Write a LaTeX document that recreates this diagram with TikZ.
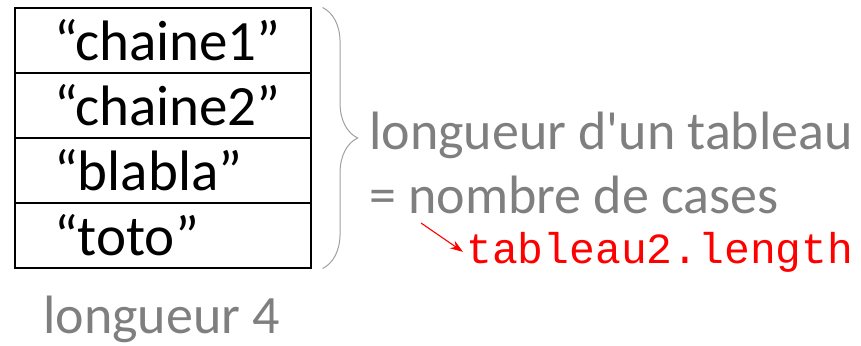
\documentclass[tikz,border=0pt]{standalone}
\usepackage{fontspec}
\setmainfont{Carlito}
\newfontfamily\codefont{Liberation Mono}
\usetikzlibrary{arrows.meta,decorations.pathreplacing}
\definecolor{notegray}{HTML}{7F7F7F}
\definecolor{bracegray}{HTML}{A0A0A0}
\definecolor{codered}{HTML}{FF0000}
\begin{document}
\begin{tikzpicture}[
    x=1pt, y=1pt,
    cell/.style={rectangle, draw, line width=1.1pt, minimum width=296pt, minimum height=65pt,
                 text width=218pt, inner xsep=39pt, align=left,
                 font=\fontsize{57}{66}\selectfont},
    note/.style={anchor=base west, inner sep=0pt, text=notegray,
                 font=\fontsize{54}{64}\selectfont},
    code/.style={anchor=base west, inner sep=0pt, text=codered,
                 font=\codefont\fontsize{43}{50}\selectfont},
    bracket/.style={draw=bracegray, line width=1pt, decorate,
                    decoration={brace, amplitude=35pt}},
    redarr/.style={-{Stealth[length=13pt, width=9pt]}, draw=codered, line width=1.1pt},
  ]
  \useasboundingbox (0,0) rectangle (861,-345);

  % table cells
  \node[cell] (c1) at (163, -40.5) {“chaine1”};
  \node[cell] (c2) at (163, -105.5) {“chaine2”};
  \node[cell] (c3) at (163, -170.5) {“blabla”};
  \node[cell] (c4) at (163, -235.5) {“toto”};

  % length below
  \node[note] (len4) at (43, -333) {longueur 4};

  % brace and explanation
  \draw[bracket] ([xshift=11pt]c1.north east) -- ([xshift=11pt]c4.south east);
  \node[note] (def1) at (369, -149) {longueur d\textquotesingle un tableau};
  \node[note] (def2) at (369, -213) {= nombre de cases};

  % code
  \node[code] (code) at (466, -263) {tableau2.length};
  \coordinate (from) at (421, -223);
  \draw[redarr] (from) -- ([xshift=-3pt]code.west);

\end{tikzpicture}
\end{document}
